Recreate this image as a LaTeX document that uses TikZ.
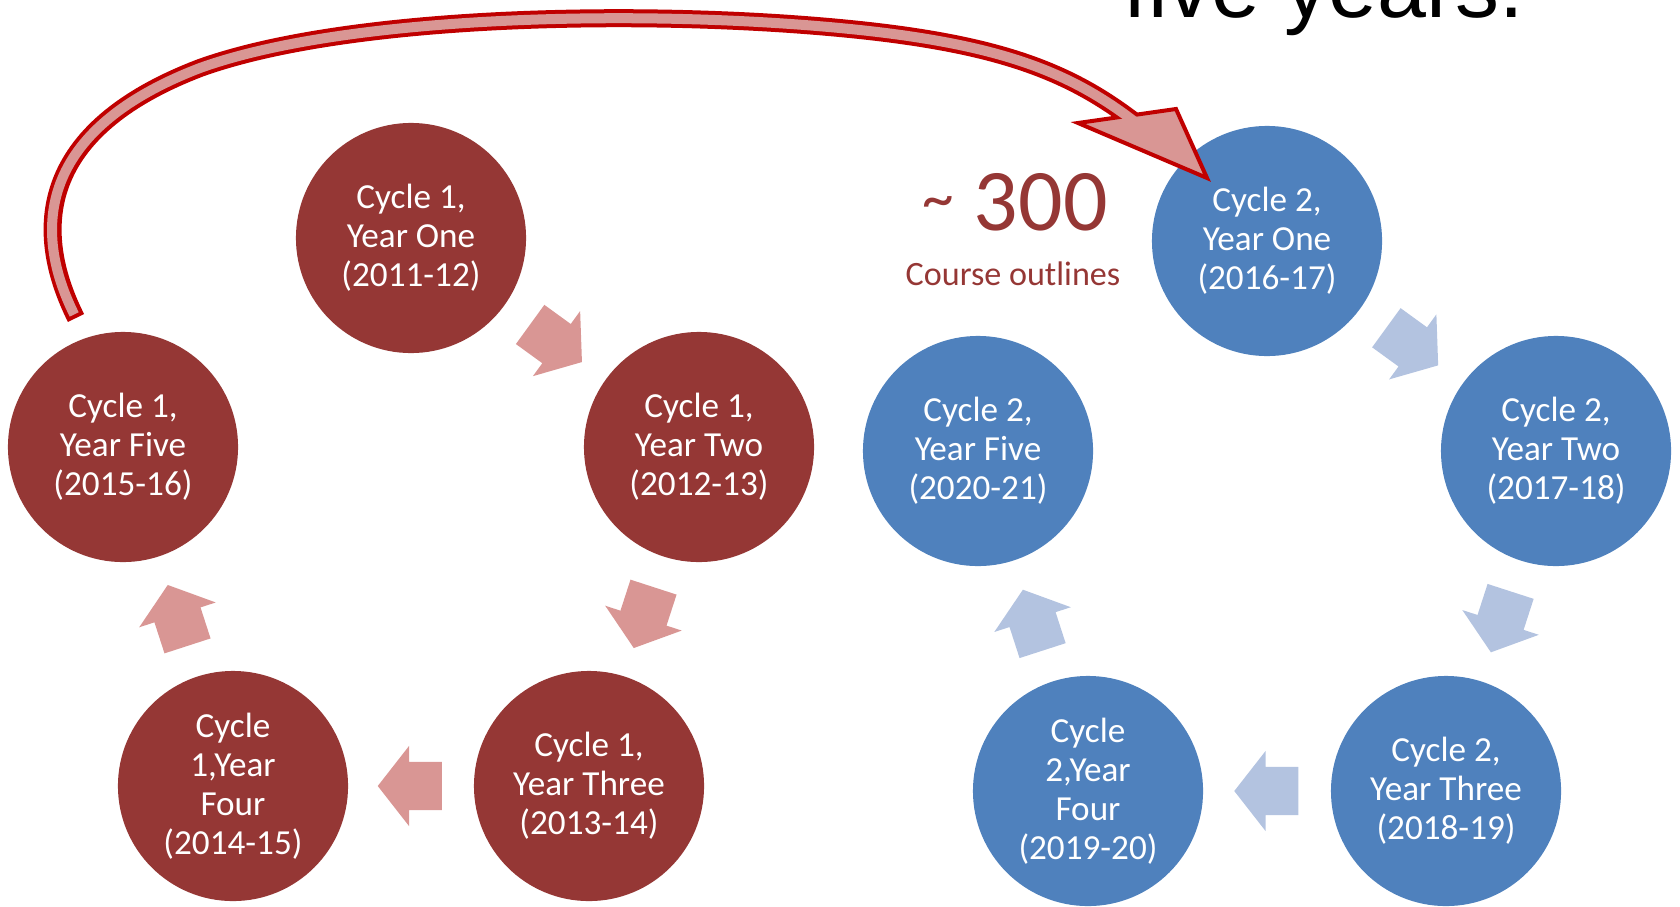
\documentclass[tikz,border=0pt]{standalone}
\usepackage{fontspec}
\setmainfont{Carlito}
\newfontfamily\titlefont{Liberation Sans}
\usetikzlibrary{shapes.arrows}

\definecolor{cycred}{HTML}{953735}
\definecolor{cycblue}{HTML}{4F81BD}
\definecolor{arrowpink}{HTML}{D99694}
\definecolor{arrowblue}{HTML}{B3C3E0}
\definecolor{loopred}{HTML}{C00000}

\tikzset{
  redball/.style={circle, fill=cycred, minimum size=2.3cm, inner sep=0pt,
    text=white, align=center, font=\fontsize{10}{11.1}\selectfont},
  blueball/.style={redball, fill=cycblue},
  pinkarrow/.style={single arrow, fill=arrowpink, inner xsep=0pt, inner ysep=0.235cm,
    minimum height=0.64cm, single arrow head extend=0.16cm, single arrow tip angle=104,
    sloped, allow upside down, anchor=tail, pos=0.247},
  bluearrow/.style={pinkarrow, fill=arrowblue},
}

\begin{document}
\begin{tikzpicture}[x=0.01cm, y=-0.01cm]
    \useasboundingbox (0,0) rectangle (1680,906);

    % Title, cut at the top
    \node[anchor=base west, inner sep=0pt, font=\titlefont\fontsize{25}{30}\selectfont] (title) at (1123,18) {five years.};

    % Cycle 1
    \node[redball] (c1y1) at (411,238) {Cycle 1,\\Year One\\(2011-12)};
    \node[redball] (c1y2) at (699,447) {Cycle 1,\\Year Two\\(2012-13)};
    \node[redball] (c1y3) at (589,786) {Cycle 1,\\Year Three\\(2013-14)};
    \node[redball] (c1y4) at (233,786) {Cycle\\1,Year\\Four\\(2014-15)};
    \node[redball] (c1y5) at (123,447) {Cycle 1,\\Year Five\\(2015-16)};

    % Cycle 2
    \node[blueball] (c2y1) at (1267,241) {Cycle 2,\\Year One\\(2016-17)};
    \node[blueball] (c2y2) at (1556,451) {Cycle 2,\\Year Two\\(2017-18)};
    \node[blueball] (c2y3) at (1446,791) {Cycle 2,\\Year Three\\(2018-19)};
    \node[blueball] (c2y4) at (1088,791) {Cycle\\2,Year\\Four\\(2019-20)};
    \node[blueball] (c2y5) at (978,451) {Cycle 2,\\Year Five\\(2020-21)};

    % Arrows from year to year
    \path (c1y1) -- node[pinkarrow] (a1) {} (c1y2);
    \path (c1y2) -- node[pinkarrow] (a2) {} (c1y3);
    \path (c1y3) -- node[pinkarrow] (a3) {} (c1y4);
    \path (c1y4) -- node[pinkarrow] (a4) {} (c1y5);
    \path (c2y1) -- node[bluearrow] (b1) {} (c2y2);
    \path (c2y2) -- node[bluearrow] (b2) {} (c2y3);
    \path (c2y3) -- node[bluearrow] (b3) {} (c2y4);
    \path (c2y4) -- node[bluearrow] (b4) {} (c2y5);

    % Count of outlines
    \node[anchor=base, text=cycred, font=\fontsize{25}{30}\selectfont] (count) at (1015,230) {\raisebox{3pt}{\fontsize{18}{18}\selectfont\textasciitilde} 300};
    \node[anchor=base, text=cycred, font=\fontsize{9.7}{12}\selectfont] (outl) at (1013,285) {Course outlines};

    % Jump from cycle 1 to cycle 2
    \coordinate (tail) at (76,318);
    \coordinate (tip) at (1207,178);
    \def\jumppath{(tail) .. controls (32,230) and (38,130) .. (200,68) .. controls (350,14) and (650,9) .. (850,29) .. controls (1000,44) and (1070,72) .. (1135,122)}
    \draw[loopred, line width=0.18cm] \jumppath;
    \filldraw[loopred, fill=arrowpink, line width=0.04cm, line join=miter] (1078,123) -- (tip) -- (1176,109) -- cycle;
    \draw[arrowpink, line width=0.10cm, shorten <=0.04cm] \jumppath;
\end{tikzpicture}
\end{document}
